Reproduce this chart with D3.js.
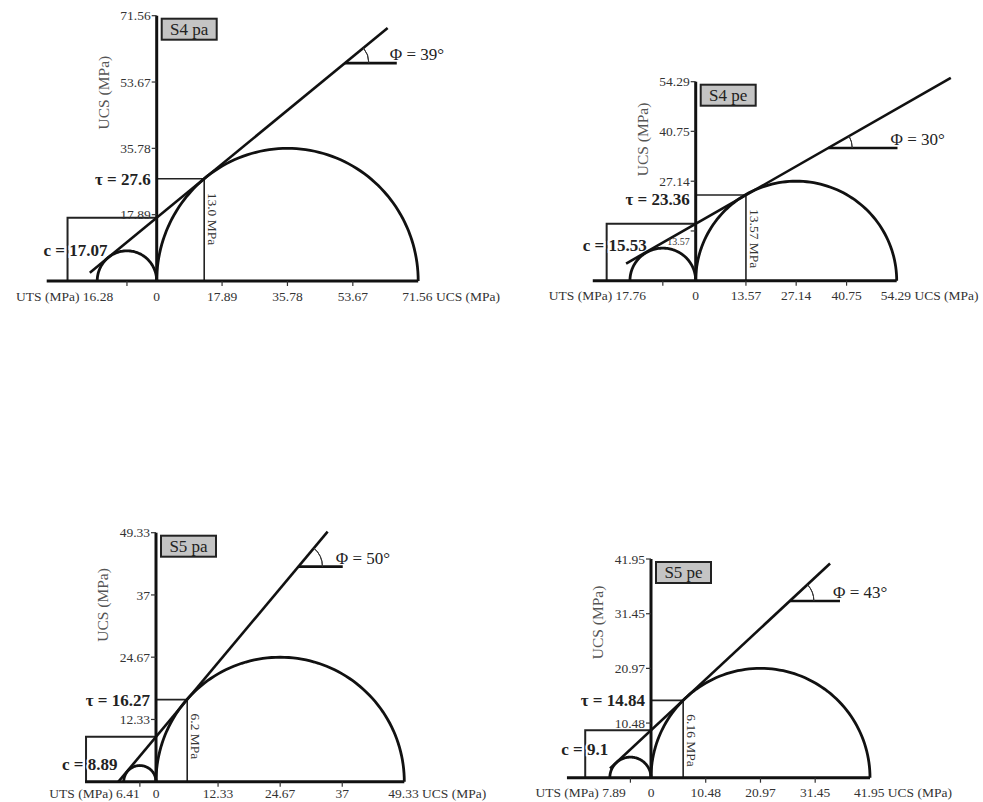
<!DOCTYPE html>
<html>
<head>
<meta charset="utf-8">
<script src="https://cdn.jsdelivr.net/npm/d3@7"></script>
<style>
    body { margin: 0; background: #fff; }
    svg { display: block; font-family: "Liberation Serif", "DejaVu Serif", serif; }
    .tick-label { font-size: 13.5px; fill: #333; }
    .bold-label { font-size: 17px; font-weight: bold; fill: #222; }
</style>
</head>
<body>
<svg width="983" height="802"></svg>
<script>
// values, one entry per panel
var panelNames = ["S4 pa", "S4 pe", "S5 pa", "S5 pe"];
var ucsValues = [71.56, 54.29, 49.33, 41.95];
var utsValues = [16.28, 17.76, 6.41, 7.89];
var phiValues = [39, 30, 50, 43];
var tauValues = [27.6, 23.36, 16.27, 14.84];
var sigmaValues = [13.0, 13.57, 6.2, 6.16];
var sigmaLabels = ["13.0 MPa", "13.57 MPa", "6.2 MPa", "6.16 MPa"];
var cohesionValues = [17.07, 15.53, 8.89, 9.1];
var tickLabels = [
    ["17.89", "35.78", "53.67", "71.56"],
    ["13.57", "27.14", "40.75", "54.29"],
    ["12.33", "24.67", "37", "49.33"],
    ["10.48", "20.97", "31.45", "41.95"]
];
// where the drawn lines start / stop (MPa)
var envelopeFrom = [-18.3, -18.8, -7.5, -7.85];
var envelopeTo = [63.2, 68.9, 34.1, 34.3];
var phiMarkFrom = [51.5, 35.8, 28.3, 26.6];
var phiMarkTo = [65.7, 54.5, 37.1, 36.2];
var cLineAt = [-24.4, -24.05, -13.9, -12.6];
var baseFrom = [-30.1, -27.8, -14.1, -16.1];

// panel frames on the page (origin + axis lengths in px, label offsets)
var frames = [
    { ox: 156.7, oy: 281, w: 261.5, h: 265.3, lab: 15, cDown: 32 },
    { ox: 695.7, oy: 280.7, w: 201, h: 199, lab: 15, cDown: 21 },
    { ox: 156, oy: 781.7, w: 248.3, h: 249, lab: 12, cDown: 27 },
    { ox: 651, oy: 777.7, w: 219, h: 218.7, lab: 15, cDown: 19 }
];

var svg = d3.select("svg");
svg.append("rect").attr("width", 983).attr("height", 802).attr("fill", "#fff");

function drawPanel(i) {
    var f = frames[i],
        ucs = ucsValues[i],
        uts = utsValues[i],
        tan = Math.tan(phiValues[i] * Math.PI / 180),
        c = cohesionValues[i];

    var x = d3.scaleLinear().domain([0, ucs]).range([f.ox, f.ox + f.w]),
        y = d3.scaleLinear().domain([0, ucs]).range([f.oy, f.oy - f.h]);

    var g = svg.append("g").attr("class", "panel");
    var line = d3.line().x(function (d) { return x(d[0]); }).y(function (d) { return y(d[1]); });
    var envelope = function (s) { return c + s * tan; };

    // c bracket
    g.append("path")
        .attr("d", line([[cLineAt[i], 0], [cLineAt[i], c], [0, c]]))
        .attr("fill", "none").attr("stroke", "#222").attr("stroke-width", 2);

    // tau / sigma guide
    g.append("path")
        .attr("d", line([[0, tauValues[i]], [sigmaValues[i], tauValues[i]], [sigmaValues[i], 0]]))
        .attr("fill", "none").attr("stroke", "#222").attr("stroke-width", 1.6);

    // c label sits over the bracket line (white halo), below the envelope
    g.append("text").attr("class", "bold-label")
        .attr("x", x(cLineAt[i]) - 24).attr("y", y(c) + f.cDown)
        .attr("dy", ".35em")
        .attr("stroke", "#fff").attr("stroke-width", 4).attr("paint-order", "stroke")
        .text("c = " + c);

    // axes
    g.append("path")
        .attr("d", line([[baseFrom[i], 0], [ucs, 0]]))
        .attr("stroke", "#111").attr("stroke-width", 3);
    g.append("path")
        .attr("d", line([[0, 0], [0, ucs]]))
        .attr("stroke", "#111").attr("stroke-width", 3);

    // ticks
    var ticks = tickLabels[i].map(Number);
    g.selectAll(".xtick")
        .data(ticks.slice(0, 3).concat([-uts / 2]))
        .enter().append("line")
        .attr("x1", function (d) { return x(d); })
        .attr("x2", function (d) { return x(d); })
        .attr("y1", y(0)).attr("y2", y(0) + 5)
        .attr("stroke", "#333").attr("stroke-width", 1.2);
    g.selectAll(".ytick")
        .data(ticks)
        .enter().append("line")
        .attr("x1", x(0) - 5).attr("x2", x(0))
        .attr("y1", function (d) { return y(d); })
        .attr("y2", function (d) { return y(d); })
        .attr("stroke", "#333").attr("stroke-width", 1.2);

    // Mohr circles
    var semi = function (lo, hi) {
        var cx = (lo + hi) / 2, r = (hi - lo) / 2;
        return d3.range(0, 181, 2).map(function (a) {
            var t = a * Math.PI / 180;
            return [cx - r * Math.cos(t), r * Math.sin(t)];
        });
    };
    g.append("path").attr("d", line(semi(0, ucs)))
        .attr("fill", "none").attr("stroke", "#111").attr("stroke-width", 2.8);
    g.append("path").attr("d", line(semi(-uts, 0)))
        .attr("fill", "none").attr("stroke", "#111").attr("stroke-width", 2.8);

    // failure envelope
    g.append("path")
        .attr("d", line([[envelopeFrom[i], envelope(envelopeFrom[i])], [envelopeTo[i], envelope(envelopeTo[i])]]))
        .attr("stroke", "#111").attr("stroke-width", 2.6);

    // friction angle marker
    var px = x(phiMarkFrom[i]), py = y(envelope(phiMarkFrom[i]));
    g.append("path")
        .attr("d", line([[phiMarkFrom[i], envelope(phiMarkFrom[i])], [phiMarkTo[i], envelope(phiMarkFrom[i])]]))
        .attr("stroke", "#111").attr("stroke-width", 2.6);
    var angPx = Math.atan2(y(0) - y(tan), x(1) - x(0));
    g.append("path")
        .attr("d", d3.arc()({ innerRadius: 24, outerRadius: 24, startAngle: Math.PI / 2 - angPx, endAngle: Math.PI / 2 }))
        .attr("transform", "translate(" + px + "," + py + ")")
        .attr("fill", "none").attr("stroke", "#333").attr("stroke-width", 1);
    g.append("text")
        .attr("x", x(phiMarkTo[i]) - 7).attr("y", py - 9)
        .attr("dy", ".35em")
        .style("font-size", "17px").style("fill", "#222")
        .text("Φ = " + phiValues[i] + "°");

    // sample box
    g.append("rect")
        .attr("x", x(0) + 5).attr("y", y(ucs) + 3)
        .attr("width", 55).attr("height", 21)
        .attr("fill", "#c4c4c4").attr("stroke", "#222").attr("stroke-width", 2);
    g.append("text")
        .attr("x", x(0) + 32.5).attr("y", y(ucs) + 13.5)
        .attr("dy", ".35em").attr("text-anchor", "middle")
        .style("font-size", "17px").style("fill", "#222")
        .text(panelNames[i]);

    // y axis title
    g.append("text")
        .attr("transform", "translate(" + (x(0) - 53) + "," + y(ucs * 0.71) + ") rotate(-90)")
        .attr("dy", ".35em").attr("text-anchor", "middle")
        .style("font-size", "15.5px").style("fill", "#555")
        .text("UCS (MPa)");

    // y tick labels
    g.selectAll(".ylab")
        .data(tickLabels[i])
        .enter().append("text")
        .attr("class", "tick-label")
        .attr("x", x(0) - 6)
        .attr("y", function (d, k) { return y(+d) + (i === 1 && k === 0 ? 11 : 0); })
        .attr("dy", ".35em").attr("text-anchor", "end")
        .style("font-size", function (d, k) { return i === 1 && k === 0 ? "10px" : null; })
        .text(function (d) { return d; });

    // x tick labels
    var ly = y(0) + f.lab;
    g.selectAll(".xlab")
        .data(tickLabels[i].slice(0, 3))
        .enter().append("text")
        .attr("class", "tick-label")
        .attr("x", function (d) { return x(+d); })
        .attr("y", ly).attr("dy", ".35em").attr("text-anchor", "middle")
        .text(function (d) { return d; });
    g.append("text").attr("class", "tick-label")
        .attr("x", x(0)).attr("y", ly).attr("dy", ".35em").attr("text-anchor", "middle")
        .text("0");
    g.append("text").attr("class", "tick-label")
        .attr("x", x(-uts) + 16).attr("y", ly).attr("dy", ".35em").attr("text-anchor", "end")
        .text("UTS (MPa) " + uts);
    g.append("text").attr("class", "tick-label")
        .attr("x", x(ucs) - 16).attr("y", ly).attr("dy", ".35em")
        .text(tickLabels[i][3] + " UCS (MPa)");

    // tau label
    g.append("text").attr("class", "bold-label")
        .attr("x", x(0) - 6).attr("y", y(tauValues[i]) + (i === 1 ? 4 : 0))
        .attr("dy", ".35em").attr("text-anchor", "end")
        .text("τ = " + tauValues[i]);

    // sigma label along the guide
    g.append("text")
        .attr("transform", "translate(" + (x(sigmaValues[i]) + 9) + "," + (y(tauValues[i]) + 14) + ") rotate(90)")
        .attr("dy", ".35em")
        .style("font-size", "13.5px").style("fill", "#333")
        .text(sigmaLabels[i]);
}

panelNames.forEach(function (d, i) { drawPanel(i); });
</script>
</body>
</html>
